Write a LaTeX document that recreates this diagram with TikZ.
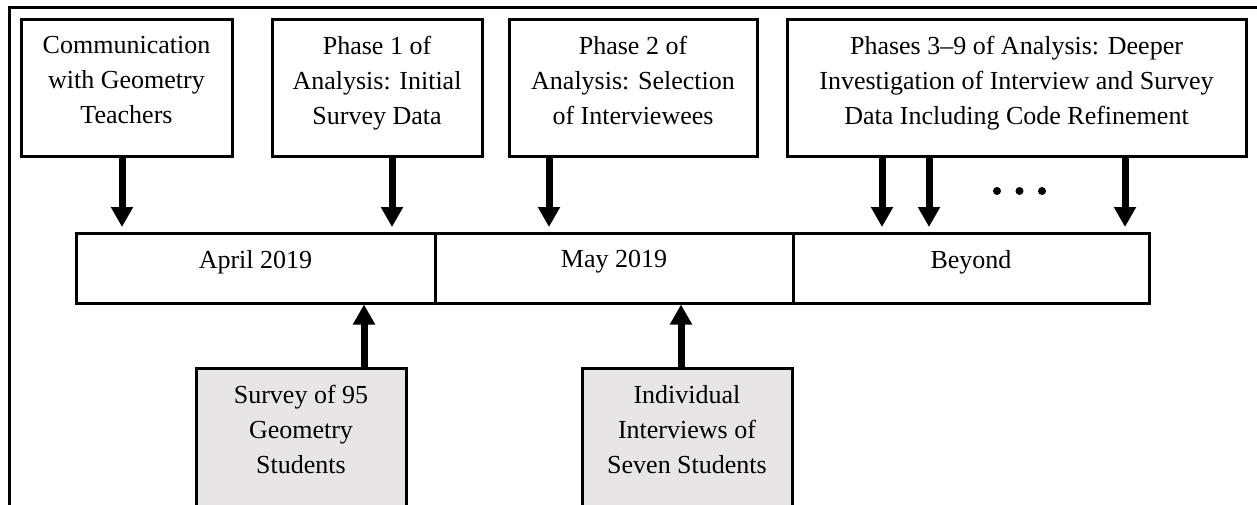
\documentclass[tikz,border=0pt]{standalone}
\usepackage{fontspec}
\setmainfont{Liberation Serif}
\usetikzlibrary{arrows.meta}
\definecolor{boxgray}{RGB}{231,229,230}
\tikzset{
  box/.style={draw, line width=1.5pt, inner sep=0pt, minimum height=68.5pt},
  tlbox/.style={draw, line width=1.5pt, inner sep=0pt, minimum height=35pt},
  srcbox/.style={draw, line width=1.5pt, fill=boxgray, inner sep=0pt, minimum width=105pt, minimum height=100pt},
  lbl/.style={anchor=north, inner sep=0pt, align=center, font=\fontsize{13}{17.5}\selectfont},
  arr/.style={line width=3.5pt, -{Triangle[width=10.5pt,length=10pt]}},
  dot/.style={circle, fill=black, inner sep=0pt, minimum size=4pt}
}
\begin{document}
\begin{tikzpicture}[x=0.5pt, y=-0.5pt]
\useasboundingbox (0,0) rectangle (1257,504);
\clip (0,0) rectangle (1257,504);
% outer frame (cropped)
\draw[line width=1.5pt] (9,700) |- (1400,7.5);
% top boxes
\node[box, minimum width=105.5pt] (b1) at (126.5,87.5) {};
\node[box, minimum width=105pt] (b2) at (377,87.5) {};
\node[box, minimum width=124pt] (b3) at (633,87.5) {};
\node[box, minimum width=229.5pt] (b4) at (1016.5,87.5) {};
\node[lbl] (l1) at (126.5,36) {Communication\\with Geometry\\Teachers};
\node[lbl] (l2) at (377,36) {Phase 1 of\\Analysis: Initial\\Survey Data};
\node[lbl] (l3) at (633,36) {Phase 2 of\\Analysis: Selection\\of Interviewees};
\node[lbl] (l4) at (1016.5,36) {Phases 3–9 of Analysis: Deeper\\Investigation of Interview and Survey\\Data Including Code Refinement};
% timeline
\node[tlbox, minimum width=179.5pt] (t1) at (255.5,268) {};
\node[tlbox, minimum width=179pt] (t2) at (614,268) {};
\node[tlbox, minimum width=178pt] (t3) at (971,268) {};
\node[lbl] (tl1) at (255.5,250) {April 2019};
\node[lbl] (tl2) at (614,250) {May 2019};
\node[lbl] (tl3) at (971,250) {Beyond};
% bottom boxes
\node[srcbox] (s1) at (301,468) {};
\node[srcbox] (s2) at (687,468) {};
\node[lbl] (sl1) at (301,385) {Survey of 95\\Geometry\\Students};
\node[lbl] (sl2) at (687,385) {Individual\\Interviews of\\Seven Students};
% arrow x positions
\coordinate (x1) at (122,0);
\coordinate (x2) at (392,0);
\coordinate (x3) at (549,0);
\coordinate (x4) at (882,0);
\coordinate (x5) at (929,0);
\coordinate (x6) at (1125,0);
\coordinate (x7) at (364,0);
\coordinate (x8) at (681,0);
% down arrows
\draw[arr, shorten >=2.25pt] (b1.south -| x1) -- (t1.north -| x1);
\draw[arr, shorten >=2.25pt] (b2.south -| x2) -- (t1.north -| x2);
\draw[arr, shorten >=2.25pt] (b3.south -| x3) -- (t2.north -| x3);
\draw[arr, shorten >=2.25pt] (b4.south -| x4) -- (t3.north -| x4);
\draw[arr, shorten >=2.25pt] (b4.south -| x5) -- (t3.north -| x5);
\draw[arr, shorten >=2.25pt] (b4.south -| x6) -- (t3.north -| x6);
% up arrows
\draw[arr] (s1.north -| x7) -- (t1.south -| x7);
\draw[arr] (s2.north -| x8) -- (t2.south -| x8);
% dots
\node[dot] (d1) at (997,191) {};
\node[dot] (d2) at (1019.5,191) {};
\node[dot] (d3) at (1042,191) {};
\end{tikzpicture}
\end{document}
